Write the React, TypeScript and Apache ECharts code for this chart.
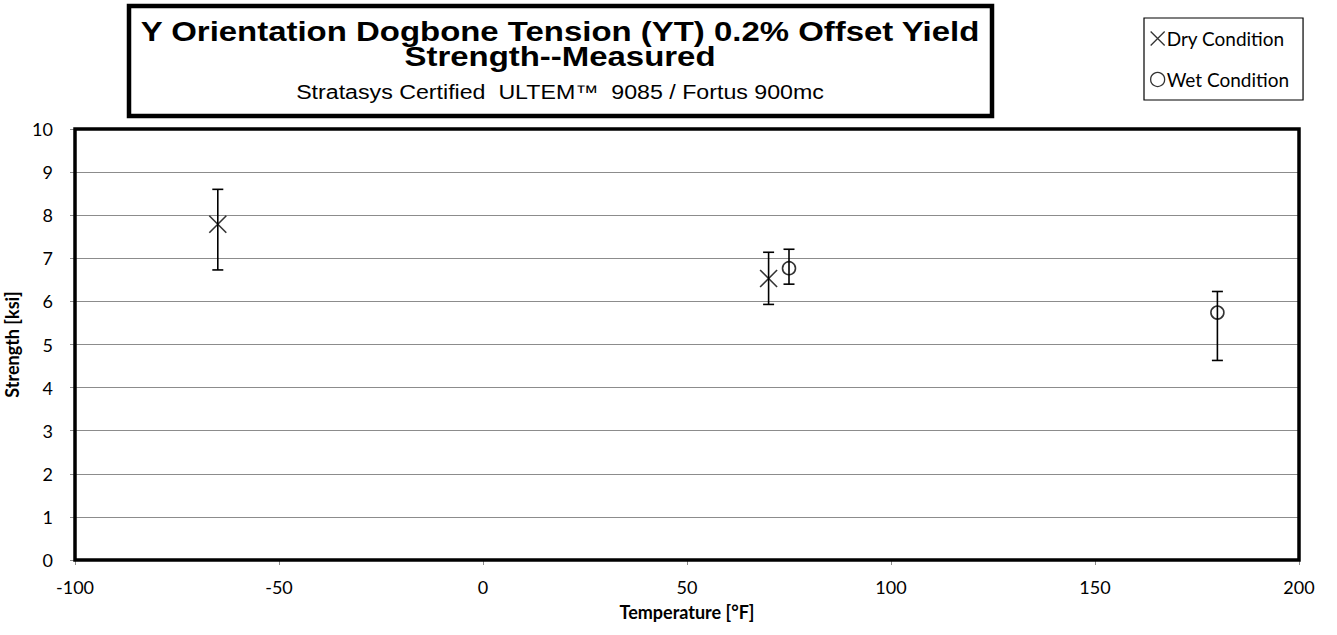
import React, { useEffect, useRef } from "react";
import * as echarts from "echarts";

const titleLines = ["Y Orientation Dogbone Tension (YT) 0.2% Offset Yield", "Strength--Measured"];
const subtitle = "Stratasys Certified  ULTEM\u2122  9085 / Fortus 900mc";

const seriesNames = ["Dry Condition", "Wet Condition"];
// temperature [°F], mean, low, high [ksi]
const dryTemps = [-65, 70];
const dryMeans = [7.79, 6.53];
const dryLows = [6.73, 5.93];
const dryHighs = [8.6, 7.14];

const wetTemps = [75, 180];
const wetMeans = [6.77, 5.74];
const wetLows = [6.4, 4.63];
const wetHighs = [7.21, 6.23];

const xMin = -100;
const xMax = 200;
const xStep = 50;
const yMin = 0;
const yMax = 10;
const yStep = 1;

const labelFont = "Lato, 'Open Sans', sans-serif";
const titleFont = "'Liberation Sans', Arial, sans-serif";

function rows(t: number[], m: number[], lo: number[], hi: number[]) {
  return t.map((x, i) => [x, m[i], lo[i], hi[i]]);
}

const errorBarSeries = (name: string, data: number[][]) => ({
  name: name + " error",
  type: "custom",
  data,
  encode: { x: 0, y: [2, 3] },
  z: 3,
  silent: true,
  renderItem: (params: any, api: any) => {
    const x = api.value(0);
    const lo = api.coord([x, api.value(2)]);
    const hi = api.coord([x, api.value(3)]);
    const cap = 5.5;
    const style = { stroke: "#000", lineWidth: 1.6 };
    return {
      type: "group",
      children: [
        { type: "line", shape: { x1: lo[0], y1: lo[1], x2: hi[0], y2: hi[1] }, style },
        { type: "line", shape: { x1: hi[0] - cap, y1: hi[1], x2: hi[0] + cap, y2: hi[1] }, style },
        { type: "line", shape: { x1: lo[0] - cap, y1: lo[1], x2: lo[0] + cap, y2: lo[1] }, style },
      ],
    };
  },
});

export default function App() {
  const ref = useRef<HTMLDivElement>(null);
  useEffect(() => {
    if (!ref.current) return;
    const chart = echarts.init(ref.current, undefined, { renderer: "svg" });
    const dry = rows(dryTemps, dryMeans, dryLows, dryHighs);
    const wet = rows(wetTemps, wetMeans, wetLows, wetHighs);
    chart.setOption({
      animation: false,
      backgroundColor: "#fff",
      grid: {
        left: 75,
        right: 38,
        top: 129,
        bottom: 75,
        containLabel: false,
        outerBoundsMode: "none",
        show: true,
        borderColor: "#000",
        borderWidth: 3.5,
        backgroundColor: "transparent",
        z: 10,
      },
      legend: {
        data: [
          { name: seriesNames[0], icon: "path://M0 0L10 10M10 0L0 10" },
          { name: seriesNames[1], icon: "circle" },
        ],
        orient: "vertical",
        left: 1144,
        top: 18,
        padding: [11, 14, 11, 6],
        itemGap: 22,
        itemWidth: 14,
        itemHeight: 14,
        borderColor: "#000",
        borderWidth: 1.2,
        backgroundColor: "#fff",
        textStyle: { fontFamily: labelFont, fontSize: 19, color: "#000", padding: [0, 0, 0, -3] },
        itemStyle: { color: "transparent", borderColor: "#000", borderWidth: 1.3 },
      },
      xAxis: {
        type: "value",
        min: xMin,
        max: xMax,
        interval: xStep,
        name: "Temperature [\u00b0F]",
        nameLocation: "middle",
        nameGap: 43,
        nameTextStyle: { fontFamily: labelFont, fontSize: 18, fontWeight: "bold", color: "#000" },
        axisLine: { show: true, lineStyle: { color: "#8c8c8c", width: 1 } },
        axisTick: { show: true, length: 5, lineStyle: { color: "#8c8c8c" } },
        axisLabel: { fontFamily: labelFont, fontSize: 18, color: "#000", margin: 18 },
        splitLine: { show: false },
      },
      yAxis: {
        type: "value",
        min: yMin,
        max: yMax,
        interval: yStep,
        name: "Strength [ksi]",
        nameLocation: "middle",
        nameGap: 44,
        nameTextStyle: { fontFamily: labelFont, fontSize: 18, fontWeight: "bold", color: "#000" },
        axisLine: { show: true, onZero: false, lineStyle: { color: "#8c8c8c", width: 1 } },
        axisTick: { show: true, length: 5, lineStyle: { color: "#8c8c8c" } },
        axisLabel: { fontFamily: labelFont, fontSize: 18, color: "#000", margin: 22 },
        splitLine: { show: true, lineStyle: { color: "#8c8c8c", width: 1.2 } },
      },
      series: [
        errorBarSeries(seriesNames[0], dry),
        errorBarSeries(seriesNames[1], wet),
        {
          name: seriesNames[0],
          type: "scatter",
          data: dry.map((r) => [r[0], r[1]]),
          symbol: "path://M0 0L10 10M10 0L0 10",
          symbolSize: 17,
          itemStyle: { color: "transparent", borderColor: "#000", borderWidth: 1.6 },
          z: 4,
        },
        {
          name: seriesNames[1],
          type: "scatter",
          data: wet.map((r) => [r[0], r[1]]),
          symbol: "circle",
          symbolSize: 13,
          itemStyle: { color: "transparent", borderColor: "#000", borderWidth: 1.6 },
          z: 4,
        },
      ],
      graphic: [
        {
          type: "rect",
          shape: { x: 129, y: 6, width: 863, height: 110 },
          style: { fill: "#fff", stroke: "#000", lineWidth: 4.5 },
          z: 20,
        },
        {
          type: "text",
          x: 560,
          y: 44,
          scaleX: 1.22,
          style: {
            text: titleLines.join("\n"),
            font: "bold 27px " + titleFont,
            lineHeight: 25,
            fill: "#000",
            align: "center",
            verticalAlign: "middle",
          },
          z: 21,
        },
        {
          type: "text",
          x: 560,
          y: 92,
          scaleX: 1.16,
          style: {
            text: subtitle,
            font: "20px " + titleFont,
            fill: "#000",
            align: "center",
            verticalAlign: "middle",
          },
          z: 21,
        },
      ],
    });
    return () => chart.dispose();
  }, []);
  return (
    <div
      ref={ref}
      style={{ position: "absolute", left: 0, top: 0, width: 1337, height: 635 }}
    />
  );
}
